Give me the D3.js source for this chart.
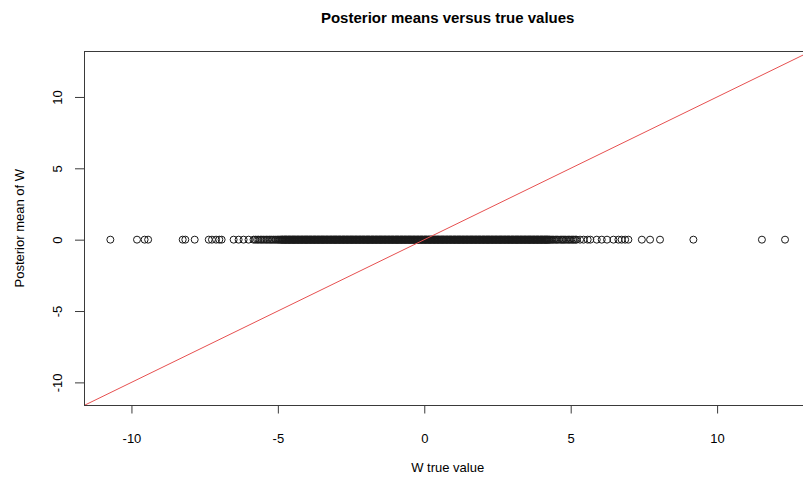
<!DOCTYPE html>
<meta charset="utf-8">
<script src="https://cdn.jsdelivr.net/npm/d3@7"></script>
<style>
body { margin: 0; background: #fff; }
text { font-family: "Liberation Sans", Arial, sans-serif; fill: #000; }
.title { font-size: 15px; font-weight: bold; }
.lab { font-size: 13px; }
circle.pt { fill: none; stroke: #1a1a1a; stroke-width: 1px; }
path.abline { fill: none; stroke: #e65050; stroke-width: 1px; }
</style>
<body>
<script>

// true W values (x positions of the circles)
var trueLeftTail = [-10.72, -9.81, -9.55, -9.43, -8.25, -8.16, -7.84, -7.36, -7.25, -7.11, -7.00,
  -6.92, -6.51, -6.34, -6.17, -6.00, -5.83, -5.77, -5.71, -5.66, -5.60, -5.55, -5.50, -5.44, -5.39,
  -5.34, -5.29, -5.24, -5.20, -5.15, -5.10, -5.06, -5.01, -4.98, -4.94, -4.91];

// the solid band: far too many circles to tell apart, so read at about 0.02 apart
var trueCoreA = [
  -4.88,-4.84,-4.79,-4.75,-4.71,-4.66,-4.62,-4.58,-4.53,-4.49,-4.45,-4.41,-4.36,-4.32,-4.28,-4.23,-4.19,-4.15,-4.10,-4.06,-4.02,
  -3.98,-3.93,-3.89,-3.85,-3.80,-3.76,-3.72,-3.67,-3.63,-3.59,-3.54,-3.50,-3.46,-3.42,-3.37,-3.33,-3.29,-3.24,-3.20,-3.16,-3.11,-3.07,-3.03,
  -2.99,-2.94,-2.90,-2.86,-2.81,-2.77,-2.73,-2.68,-2.64,-2.60,-2.55,-2.51,-2.47,-2.43,-2.38,-2.34,-2.30,-2.25,-2.21,-2.17,-2.12,-2.08,-2.04,
  -1.99,-1.95,-1.91,-1.87,-1.82,-1.78,-1.74,-1.69,-1.65,-1.61,-1.56,-1.52,-1.48,-1.44,-1.39,-1.35,-1.31,-1.26,-1.22,-1.18,-1.13,-1.09,-1.05,
  -1.00,-0.96,-0.92,-0.88,-0.83,-0.79,-0.75,-0.70,-0.66,-0.62,-0.57,-0.53,-0.49,-0.45,-0.40,-0.36,-0.32,-0.27,-0.23,-0.19,-0.14,-0.10,-0.06,-0.01,
  0.03,0.07,0.12,0.16,0.20,0.24,0.29,0.33,0.37,0.42,0.46,0.50,0.55,0.59,0.63,0.67,0.72,0.76,0.80,0.85,0.89,0.93,0.98,
  1.02,1.06,1.11,1.15,1.19,1.23,1.28,1.32,1.36,1.41,1.45,1.49,1.54,1.58,1.62,1.66,1.71,1.75,1.79,1.84,1.88,1.92,1.97,
  2.01,2.05,2.10,2.14,2.18,2.22,2.27,2.31,2.35,2.40,2.44,2.48,2.53,2.57,2.61,2.65,2.70,2.74,2.78,2.83,2.87,2.91,2.96,
  3.00,3.04,3.09,3.13,3.17,3.21,3.26,3.30,3.34,3.39,3.43,3.47,3.52,3.56,3.60,3.64,3.69,3.73,3.77,3.82,3.86,3.90,3.95,3.99,
  4.03,4.08,4.12,4.16,4.20,4.25,4.30
];

var trueCoreB = [
  -4.86,-4.82,-4.77,-4.73,-4.69,-4.64,-4.60,-4.56,-4.51,-4.47,-4.43,-4.39,-4.34,-4.30,-4.26,-4.21,-4.17,-4.13,-4.08,-4.04,-4.00,
  -3.96,-3.91,-3.87,-3.83,-3.78,-3.74,-3.70,-3.65,-3.61,-3.57,-3.52,-3.48,-3.44,-3.40,-3.35,-3.31,-3.27,-3.22,-3.18,-3.14,-3.09,-3.05,-3.01,
  -2.97,-2.92,-2.88,-2.84,-2.79,-2.75,-2.71,-2.66,-2.62,-2.58,-2.53,-2.49,-2.45,-2.41,-2.36,-2.32,-2.28,-2.23,-2.19,-2.15,-2.10,-2.06,-2.02,
  -1.97,-1.93,-1.89,-1.85,-1.80,-1.76,-1.72,-1.67,-1.63,-1.59,-1.54,-1.50,-1.46,-1.42,-1.37,-1.33,-1.29,-1.24,-1.20,-1.16,-1.11,-1.07,-1.03,
  -0.98,-0.94,-0.90,-0.86,-0.81,-0.77,-0.73,-0.68,-0.64,-0.60,-0.55,-0.51,-0.47,-0.43,-0.38,-0.34,-0.30,-0.25,-0.21,-0.17,-0.12,-0.08,-0.04,
  0.01,0.05,0.09,0.14,0.18,0.22,0.26,0.31,0.35,0.39,0.44,0.48,0.52,0.57,0.61,0.65,0.69,0.74,0.78,0.82,0.87,0.91,0.95,1.00,
  1.04,1.08,1.13,1.17,1.21,1.25,1.30,1.34,1.38,1.43,1.47,1.51,1.56,1.60,1.64,1.68,1.73,1.77,1.81,1.86,1.90,1.94,1.99,
  2.03,2.07,2.12,2.16,2.20,2.24,2.29,2.33,2.37,2.42,2.46,2.50,2.55,2.59,2.63,2.67,2.72,2.76,2.80,2.85,2.89,2.93,2.98,
  3.02,3.06,3.11,3.15,3.19,3.23,3.28,3.32,3.36,3.41,3.45,3.49,3.54,3.58,3.62,3.66,3.71,3.75,3.79,3.84,3.88,3.92,3.97,
  4.01,4.05,4.10,4.14,4.18,4.22,4.27
];

var trueRightTail = [4.34, 4.38, 4.42, 4.47, 4.51, 4.55, 4.60, 4.66, 4.70, 4.74, 4.78, 4.83, 4.88, 4.93,
  4.97, 5.02, 5.07, 5.11, 5.16, 5.20,
  5.32, 5.44, 5.58, 5.67, 5.89, 6.06, 6.24, 6.46, 6.63, 6.74, 6.86, 6.97,
  7.43, 7.71, 8.05, 9.19, 11.53, 12.32];

// every posterior mean sits on 0 in the picture
var posteriorMean = 0;

var xTicks = [-10, -5, 0, 5, 10];
var yTicks = [-10, -5, 0, 5, 10];
var axisLimits = [-11.62, 13.22];

var trueValues = trueLeftTail.concat(trueCoreA, trueCoreB, trueRightTail);
var points = trueValues.map(function(w) { return {w: w, post: posteriorMean}; });

var width = 803, height = 478;
var plotLeft = 84, plotTop = 51, plotRight = 811.4, plotBottom = 405.5;

var svg = d3.select("body").append("svg")
    .attr("width", width)
    .attr("height", height);

var x = d3.scaleLinear().domain(axisLimits).range([plotLeft, plotRight]);
var y = d3.scaleLinear().domain(axisLimits).range([plotBottom, plotTop]);

svg.append("clipPath").attr("id", "plotclip")
  .append("rect")
    .attr("x", plotLeft).attr("y", plotTop)
    .attr("width", plotRight - plotLeft).attr("height", plotBottom - plotTop);

// points
svg.append("g")
  .selectAll("circle")
  .data(points)
  .enter()
  .append("circle")
    .attr("class", "pt")
    .attr("cx", function(d) { return x(d.w); })
    .attr("cy", function(d) { return y(d.post); })
    .attr("r", 3.5);

// abline(0, 1)
var line = d3.line()
    .x(function(d) { return x(d); })
    .y(function(d) { return y(d); });

svg.append("path")
    .datum(axisLimits)
    .attr("class", "abline")
    .attr("clip-path", "url(#plotclip)")
    .attr("d", line);

// box
svg.append("rect")
    .attr("x", plotLeft + 0.5).attr("y", plotTop + 0.5)
    .attr("width", plotRight - plotLeft).attr("height", plotBottom - plotTop - 0.5)
    .attr("fill", "none")
    .attr("stroke", "#3a3a3a");

// axes (R prints plain hyphen minus signs)
var fmt = function(d) { return String(d); };

var xAxis = svg.append("g")
    .attr("transform", "translate(0," + plotBottom + ")")
    .call(d3.axisBottom(x).tickValues(xTicks).tickSize(8).tickPadding(20).tickFormat(fmt));
xAxis.select(".domain").remove();
xAxis.selectAll("line").attr("stroke", "#3a3a3a");
xAxis.selectAll("text").style("font-size", "13px").style("font-family", "'Liberation Sans', Arial, sans-serif");

var yAxis = svg.append("g")
    .attr("transform", "translate(" + plotLeft + ",0)")
    .call(d3.axisLeft(y).tickValues(yTicks).tickSize(9).tickFormat(fmt));
yAxis.select(".domain").remove();
yAxis.selectAll("line").attr("stroke", "#3a3a3a");
yAxis.selectAll("text")
    .style("font-size", "13px")
    .style("font-family", "'Liberation Sans', Arial, sans-serif")
    .attr("transform", "rotate(-90)")
    .attr("text-anchor", "middle")
    .attr("x", 0)
    .attr("y", -(plotLeft - 57))
    .attr("dy", "0.35em");

// titles
svg.append("text")
    .attr("class", "title")
    .attr("x", (plotLeft + plotRight) / 2)
    .attr("y", 23)
    .attr("text-anchor", "middle")
    .text("Posterior means versus true values");

svg.append("text")
    .attr("class", "lab")
    .attr("x", (plotLeft + plotRight) / 2)
    .attr("y", 472)
    .attr("text-anchor", "middle")
    .text("W true value");

svg.append("text")
    .attr("class", "lab")
    .attr("transform", "translate(24," + ((plotTop + plotBottom) / 2) + ") rotate(-90)")
    .attr("text-anchor", "middle")
    .text("Posterior mean of W");

</script>
</body>
